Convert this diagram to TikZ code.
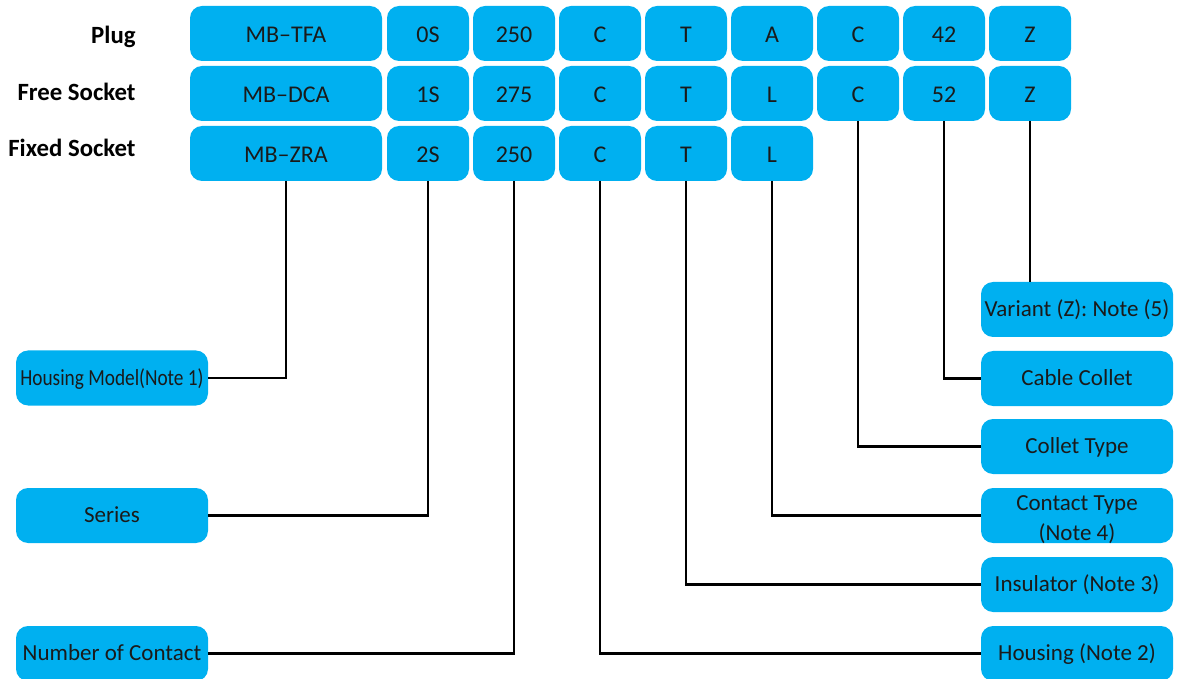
\documentclass[tikz,border=0pt]{standalone}
\usepackage{fontspec}
\setmainfont{Carlito}
\newfontfamily\narrowfont[FakeStretch=0.84]{Carlito}
\usetikzlibrary{positioning}
\definecolor{cellblue}{HTML}{00B0F0}
\definecolor{inkdark}{HTML}{1A1A1A}

\begin{document}
\begin{tikzpicture}[
        x=0.5pt, y=-0.5pt,
        node distance=2pt,
        cell/.style={rectangle, fill=cellblue, rounded corners=6pt, minimum width=41pt, minimum height=27.5pt, inner sep=0pt, outer sep=0pt, text=inkdark, font=\fontsize{12}{13}\selectfont, text height=9.5pt, text depth=0pt},
        widecell/.style={cell, minimum width=96pt},
        field/.style={cell, minimum width=96pt, font=\fontsize{11.5}{13}\selectfont, text height=7.4pt},
        rowlabel/.style={anchor=base east, inner sep=0pt, text=black, font=\fontsize{12.4}{14}\selectfont\bfseries},
        lead/.style={draw=black, line width=1.1pt}
    ]
    \useasboundingbox (0,0) rectangle (1184,679);

    % Row labels
    \node[rowlabel] (plug) at (136,44) {Plug};
    \node[rowlabel] (free) at (136,101) {Free Socket};
    \node[rowlabel] (fixed) at (136,157) {Fixed Socket};

    % Code rows
    \node[widecell] (mb1) at (286,33.5) {MB–TFA};
    \node[cell, right=2.5pt of mb1] (ser1) {0S};
    \node[cell, right=of ser1] (num1) {250};
    \node[cell, right=of num1] (hsg1) {C};
    \node[cell, right=of hsg1] (ins1) {T};
    \node[cell, right=of ins1] (ctc1) {A};
    \node[cell, right=of ctc1] (col1) {C};
    \node[cell, right=of col1] (cab1) {42};
    \node[cell, right=of cab1] (var1) {Z};

    \node[widecell, below=2.5pt of mb1] (mb2) {MB–DCA};
    \node[cell, right=2.5pt of mb2] (ser2) {1S};
    \node[cell, right=of ser2] (num2) {275};
    \node[cell, right=of num2] (hsg2) {C};
    \node[cell, right=of hsg2] (ins2) {T};
    \node[cell, right=of ins2] (ctc2) {L};
    \node[cell, right=of ctc2] (col2) {C};
    \node[cell, right=of col2] (cab2) {52};
    \node[cell, right=of cab2] (var2) {Z};

    \node[widecell, below=2.5pt of mb2] (mb3) {MB–ZRA};
    \node[cell, right=2.5pt of mb3] (ser3) {2S};
    \node[cell, right=of ser3] (num3) {250};
    \node[cell, right=of num3] (hsg3) {C};
    \node[cell, right=of hsg3] (ins3) {T};
    \node[cell, right=of ins3] (ctc3) {L};

    % Fields on the left
    \node[field, font=\fontsize{11.5}{13}\narrowfont] (housingmodel) at (112,378) {Housing Model(Note 1)};
    \node[field] (series) at (112,515.5) {Series};
    \node[field] (contacts) at (112,653.5) {Number of Contact};

    % Fields on the right
    \node[field] (variant) at (1077,309.5) {Variant (Z): Note (5)};
    \node[field, below=7pt of variant] (cablecollet) {Cable Collet};
    \node[field, below=6.5pt of cablecollet] (collettype) {Collet Type};
    \node[field, below=7pt of collettype, align=center, font=\fontsize{11.5}{15}\selectfont, text height=25.2pt, text depth=0pt] (contacttype) {Contact Type\\(Note 4)};
    \node[field, below=7pt of contacttype] (insulator) {Insulator (Note 3)};
    \node[field, below=7pt of insulator] (housing) {Housing (Note 2)};

    % Connections
    \draw[lead] (mb3.south) |- (housingmodel.east);
    \draw[lead] (ser3.south) |- (series.east);
    \draw[lead] (num3.south) |- (contacts.east);
    \draw[lead] (hsg3.south) |- (housing.west);
    \draw[lead] (ins3.south) |- (insulator.west);
    \draw[lead] (ctc3.south) |- (contacttype.west);
    \draw[lead] (col2.south) |- (collettype.west);
    \draw[lead] (cab2.south) |- (cablecollet.west);
    \draw[lead] (var2.south) -- (var2.south |- variant.north);

\end{tikzpicture}
\end{document}
